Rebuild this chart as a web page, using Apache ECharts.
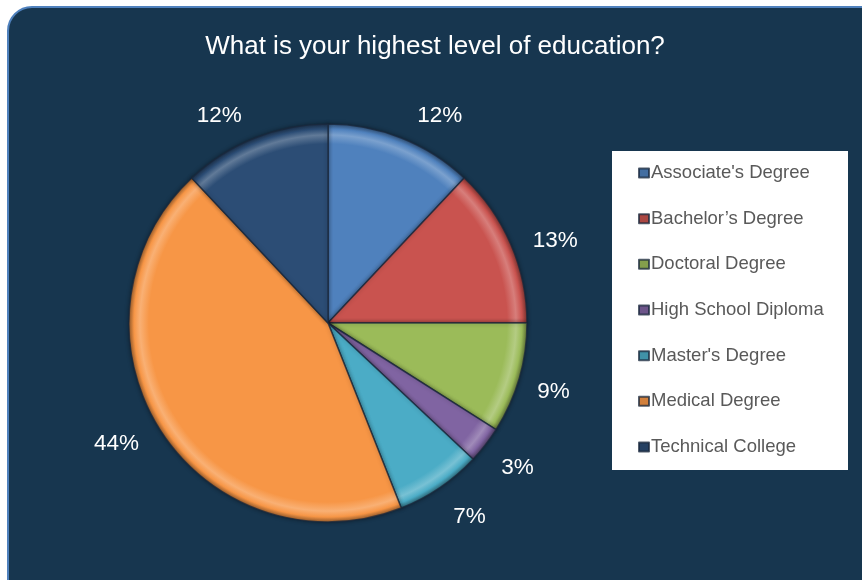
<!DOCTYPE html>
<html>
<head>
<meta charset="utf-8">
<script src="https://cdn.jsdelivr.net/npm/echarts@6/dist/echarts.min.js"></script>
<style>
  html, body { margin: 0; padding: 0; background: #ffffff; }
  #chart { width: 862px; height: 580px; }
</style>
</head>
<body>
<div id="chart"></div>
<script>
// Survey answers: share of respondents per education level (percent)
const categories = [
  "Associate's Degree",
  "Bachelor\u2019s Degree",
  "Doctoral Degree",
  "High School Diploma",
  "Master's Degree",
  "Medical Degree",
  "Technical College"
];
const shares = [12, 13, 9, 3, 7, 44, 12];
const sliceColors = ['#4f81bd', '#c9534f', '#9bbb59', '#8064a2', '#4bacc6', '#f79646', '#2c4d75'];
const titleText = 'What is your highest level of education?';
// small per-label nudges [dx, dy] applied to the percentage labels
const labelNudge = [[23, 17], [6, 14], [-6, 2], [-1, -3], [6, -6], [-8, -8], [-20, 17]];

const CX = 328, CY = 323, R = 199;
const FONT = '"Liberation Sans", Arial, sans-serif';

function shade(hex, amt) {
  const n = parseInt(hex.slice(1), 16);
  let r = (n >> 16) & 255, g = (n >> 8) & 255, b = n & 255;
  const f = v => Math.max(0, Math.min(255, Math.round(amt >= 0 ? v + (255 - v) * amt : v * (1 + amt))));
  return 'rgb(' + f(r) + ',' + f(g) + ',' + f(b) + ')';
}

// Bevelled slice fill: flat body, bright rim near the edge, darker lip at the edge
function bevel(hex) {
  return {
    type: 'radial', x: CX, y: CY, r: R, global: true,
    colorStops: [
      { offset: 0, color: hex },
      { offset: 0.9, color: hex },
      { offset: 0.945, color: shade(hex, 0.25) },
      { offset: 0.975, color: hex },
      { offset: 1, color: shade(hex, -0.35) }
    ]
  };
}

const pieData = categories.map((name, i) => ({
  name: name,
  value: shares[i],
  itemStyle: { color: bevel(sliceColors[i]) }
}));
const labelData = categories.map((name, i) => ({
  name: name,
  value: shares[i],
  label: { offset: labelNudge[i] }
}));

const chart = echarts.init(document.getElementById('chart'), null, { renderer: 'canvas' });
chart.setOption({
  backgroundColor: '#ffffff',
  animation: false,
  title: {
    text: titleText,
    left: 430, top: 29, textAlign: 'center',
    textStyle: { color: '#ffffff', fontSize: 26, fontWeight: 'normal', fontFamily: FONT }
  },
  graphic: [
    {
      type: 'rect', z: 0,
      shape: { x: 8, y: 7, width: 880, height: 600, r: 24 },
      style: { fill: '#17364f', stroke: '#4f81bd', lineWidth: 2 }
    },
    {
      type: 'rect', z: 1,
      shape: { x: 612, y: 151, width: 236, height: 319 },
      style: { fill: '#ffffff' }
    }
  ],
  legend: {
    orient: 'vertical',
    left: 638, top: 163,
    icon: 'rect',
    itemWidth: 10, itemHeight: 9,
    itemGap: 25.67,
    padding: 0,
    selectedMode: false,
    textStyle: { color: '#595959', fontSize: 18.5, fontFamily: FONT, lineHeight: 20, padding: [0, 0, 0, -3] },
    data: categories.map((name, i) => ({ name: name, itemStyle: { color: shade(sliceColors[i], -0.15) } }))
  },
  series: [
    {
      type: 'pie',
      center: [CX, CY],
      radius: [0, R],
      startAngle: 90,
      clockwise: true,
      silent: true,
      label: { show: false },
      labelLine: { show: false },
      itemStyle: {
        borderColor: 'rgba(25,40,60,0.75)',
        borderWidth: 1.5,
        shadowColor: 'rgba(0,0,0,0.35)',
        shadowBlur: 4
      },
      data: pieData
    },
    {
      // transparent ring that carries the percentage labels just outside the pie
      type: 'pie',
      center: [CX, CY],
      radius: [R + 2, R + 76],
      startAngle: 90,
      clockwise: true,
      silent: true,
      itemStyle: { color: 'rgba(0,0,0,0)' },
      label: {
        show: true,
        position: 'inside',
        formatter: p => p.value + '%',
        color: '#ffffff',
        fontSize: 22.5,
        fontFamily: FONT
      },
      labelLine: { show: false },
      data: labelData
    }
  ]
});
</script>
</body>
</html>
